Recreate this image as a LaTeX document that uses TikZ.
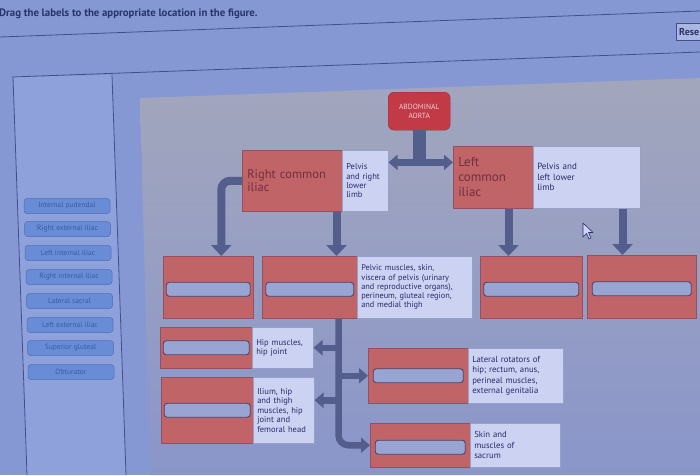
\documentclass[tikz,border=0pt]{standalone}
\usepackage{fontspec}
\setmainfont{PT Sans}
\usetikzlibrary{arrows.meta}
\definecolor{bg}{RGB}{133,152,212}
\definecolor{panel}{RGB}{143,161,219}
\definecolor{linec}{RGB}{66,80,138}
\definecolor{greytop}{RGB}{162,166,188}
\definecolor{greybot}{RGB}{138,150,202}
\definecolor{redboxc}{RGB}{192,100,104}
\definecolor{redline}{RGB}{150,78,96}
\definecolor{wboxc}{RGB}{204,211,242}
\definecolor{wline}{RGB}{150,160,200}
\definecolor{slotc}{RGB}{152,164,210}
\definecolor{slotb}{RGB}{78,66,104}
\definecolor{arrowc}{RGB}{84,94,140}
\definecolor{aortac}{RGB}{194,58,70}
\definecolor{aortat}{RGB}{238,205,215}
\definecolor{tilec}{RGB}{104,140,214}
\definecolor{tileb}{RGB}{80,110,186}
\definecolor{tilet}{RGB}{60,90,168}
\definecolor{navy}{RGB}{38,44,108}
\definecolor{redtext}{RGB}{112,48,62}
\definecolor{titlec}{RGB}{40,52,104}
\definecolor{cursorc}{RGB}{205,212,242}
\tikzset{
  rbox/.style={fill=redboxc, draw=redline, line width=0.5pt, anchor=north west,
    inner xsep=5pt, inner ysep=0pt, align=left, text=redtext},
  wbox/.style={fill=wboxc, draw=wline, line width=0.5pt, anchor=north west,
    inner xsep=4pt, inner ysep=0pt, align=left, text=navy,
    font=\fontsize{8.5}{9.4}\selectfont},
  slot/.style={fill=slotc, draw=slotb, line width=0.9pt, rounded corners=3pt,
    minimum height=14pt, inner sep=0pt},
  tile/.style={fill=tilec, draw=tileb, line width=0.5pt, rounded corners=3pt,
    minimum width=86pt, minimum height=15pt, inner sep=0pt, text=tilet,
    font=\fontsize{7.5}{8}\selectfont},
  conn/.style={draw=arrowc, line width=8pt, -{Triangle[width=20pt,length=11pt]}},
  connT/.style={draw=arrowc, line width=7pt, -{Triangle[width=15pt,length=9pt]}},
  connS/.style={draw=arrowc, line width=6.5pt, -{Triangle[width=15pt,length=9pt]}},
}
\begin{document}
\begin{tikzpicture}[x=1pt,y=-1pt]
\useasboundingbox (0,0) rectangle (700,475);
% screen background
\fill[bg] (0,0) rectangle (700,475);
\fill[panel] (13,77) -- (112,75) -- (126,475) -- (27,475) -- cycle;
\shade[top color=greytop, bottom color=greybot] (140,98) -- (700,78) -- (700,475) -- (150,475) -- cycle;
% screen lines
\draw[linec, line width=0.8pt] (0,37) -- (700,11);
\draw[linec, line width=0.8pt] (12,77) -- (700,52);
\draw[linec, line width=0.8pt] (13,77) -- (27,475);
\draw[linec, line width=0.8pt] (112,75) -- (126,475);
% title and button
\node[anchor=west, text=titlec, font=\bfseries\fontsize{10.8}{12}\selectfont, inner sep=0pt]
  (title) at (-1,14) {Drag the labels to the appropriate location in the figure.};
\node[draw=linec, fill=bg!70!white, anchor=north west, minimum height=17pt,
  inner xsep=3pt, text=titlec, font=\bfseries\fontsize{10}{11}\selectfont] (reset) at (676,23) {Rese};
% label tiles
\node[tile] (t1) at (67,206) {Internal pudendal};
\node[tile] (t2) at (67.5,229) {Right external iliac};
\node[tile] (t3) at (68,253) {Left internal iliac};
\node[tile] (t4) at (69,277) {Right internal iliac};
\node[tile] (t5) at (69.5,301) {Lateral sacral};
\node[tile] (t6) at (70,325) {Left external iliac};
\node[tile] (t7) at (70.5,348) {Superior gluteal};
\node[tile] (t8) at (71,372) {Obturator};
% aorta
\node[fill=aortac, draw=aortac!80!black, rounded corners=6pt, anchor=north west,
  minimum width=62pt, minimum height=38pt, inner sep=0pt, align=center, text=aortat,
  font=\fontsize{7.5}{8.5}\selectfont] (aorta) at (388,92) {ABDOMINAL\\AORTA};
% common iliacs
\node[rbox, text width=90pt, minimum height=61pt, font=\fontsize{12.5}{13.5}\selectfont]
  (rci) at (242,150) {Right common\\iliac};
\node[wbox, text width=38pt, minimum height=61pt] (rciw) at (342,150) {Pelvis\\and right\\lower\\limb};
\node[rbox, text width=70pt, minimum height=62pt, font=\fontsize{13}{15}\selectfont]
  (lci) at (453,146) {Left\\common\\iliac};
\node[wbox, text width=99pt, minimum height=62pt, font=\fontsize{9}{10.5}\selectfont]
  (lciw) at (533,146) {Pelvis and\\left lower\\limb};
% row 2
\node[rbox, minimum width=90pt, minimum height=62pt] (bA) at (163,256) {};
\node[rbox, minimum width=95pt, minimum height=62pt] (bB) at (262,256) {};
\node[wbox, text width=107pt, minimum height=62pt, font=\fontsize{8.3}{9.3}\selectfont]
  (bBw) at (357,256) {Pelvic muscles, skin,\\viscera of pelvis (urinary\\and reproductive organs),\\perineum, gluteal region,\\and medial thigh};
\node[rbox, minimum width=102pt, minimum height=62pt] (bC) at (480,256) {};
\node[rbox, minimum width=109pt, minimum height=63pt] (bD) at (587,255) {};
% row 3
\node[rbox, minimum width=92pt, minimum height=41pt] (hip) at (160,327) {};
\node[wbox, text width=53pt, minimum height=41pt] (hipw) at (252,327) {Hip muscles,\\hip joint};
\node[rbox, minimum width=92pt, minimum height=66pt] (il) at (161,377) {};
\node[wbox, text width=53pt, minimum height=66pt] (ilw) at (253,377) {Ilium, hip\\and thigh\\muscles, hip\\joint and\\femoral head};
\node[rbox, minimum width=100pt, minimum height=55pt] (lr) at (368,348) {};
\node[wbox, text width=87pt, minimum height=55pt, font=\fontsize{8.7}{10.5}\selectfont]
  (lrw) at (468,348) {Lateral rotators of\\hip; rectum, anus,\\perineal muscles,\\external genitalia};
\node[rbox, minimum width=100pt, minimum height=44pt] (sk) at (370,423) {};
\node[wbox, text width=82pt, minimum height=44pt, font=\fontsize{8.7}{10.5}\selectfont]
  (skw) at (470,423) {Skin and\\muscles of\\sacrum};
% drop slots
\node[slot, minimum width=84pt] (sA) at ([yshift=-2pt]bA.center) {};
\node[slot, minimum width=88pt] (sB) at ([yshift=-2pt]bB.center) {};
\node[slot, minimum width=95pt] (sC) at ([yshift=-2pt]bC.center) {};
\node[slot, minimum width=99pt] (sD) at ([yshift=-2pt]bD.center) {};
\node[slot, minimum width=86pt] (sH) at (hip.center) {};
\node[slot, minimum width=86pt] (sI) at (il.center) {};
\node[slot, minimum width=90pt] (sL) at (lr.center) {};
\node[slot, minimum width=90pt] (sK) at ([yshift=-2pt]sk.center) {};
% connectors: aorta T
\coordinate (tj) at ([yshift=-32pt]aorta.south);
\draw[connT] (tj) -- (tj -| rciw.east);
\draw[connT] (tj) -- (tj -| lci.west);
\draw[arrowc, line width=13pt] (aorta.south) -- (tj);
% from right common iliac
\coordinate (cA) at ([xshift=13pt]bA.north);
\draw[conn, rounded corners=9pt] (rci.west) -| (cA);
\coordinate (c1) at ([xshift=-6pt]rci.south east);
\draw[conn] (c1) -- (c1 |- bB.north);
% from left common iliac
\coordinate (c2) at ([xshift=-25pt]lci.south east);
\draw[conn] (c2) -- (c2 |- bC.north);
\coordinate (c3) at ([xshift=-18pt]lciw.south east);
\draw[conn] (c3) -- (c3 |- bD.north);
% from internal iliac box
\coordinate (c4) at ([xshift=-19pt]bB.south east);
\coordinate (ilin) at ([yshift=10pt]ilw.east);
\draw[connS] (c4 |- hipw.east) -- (hipw.east);
\draw[connS] (c4 |- lr.west) -- (lr.west);
\draw[connS] (c4 |- ilin) -- (ilin);
\draw[connS, rounded corners=10pt] (c4) |- (sk.west);
% mouse cursor
\draw[fill=cursorc, draw=navy, line width=0.6pt, line join=round]
  (583,223) -- (583,237) -- (586.5,233.5) -- (589,239) -- (591,238) -- (588.5,232.5) -- (593,232.5) -- cycle;
\end{tikzpicture}
\end{document}
